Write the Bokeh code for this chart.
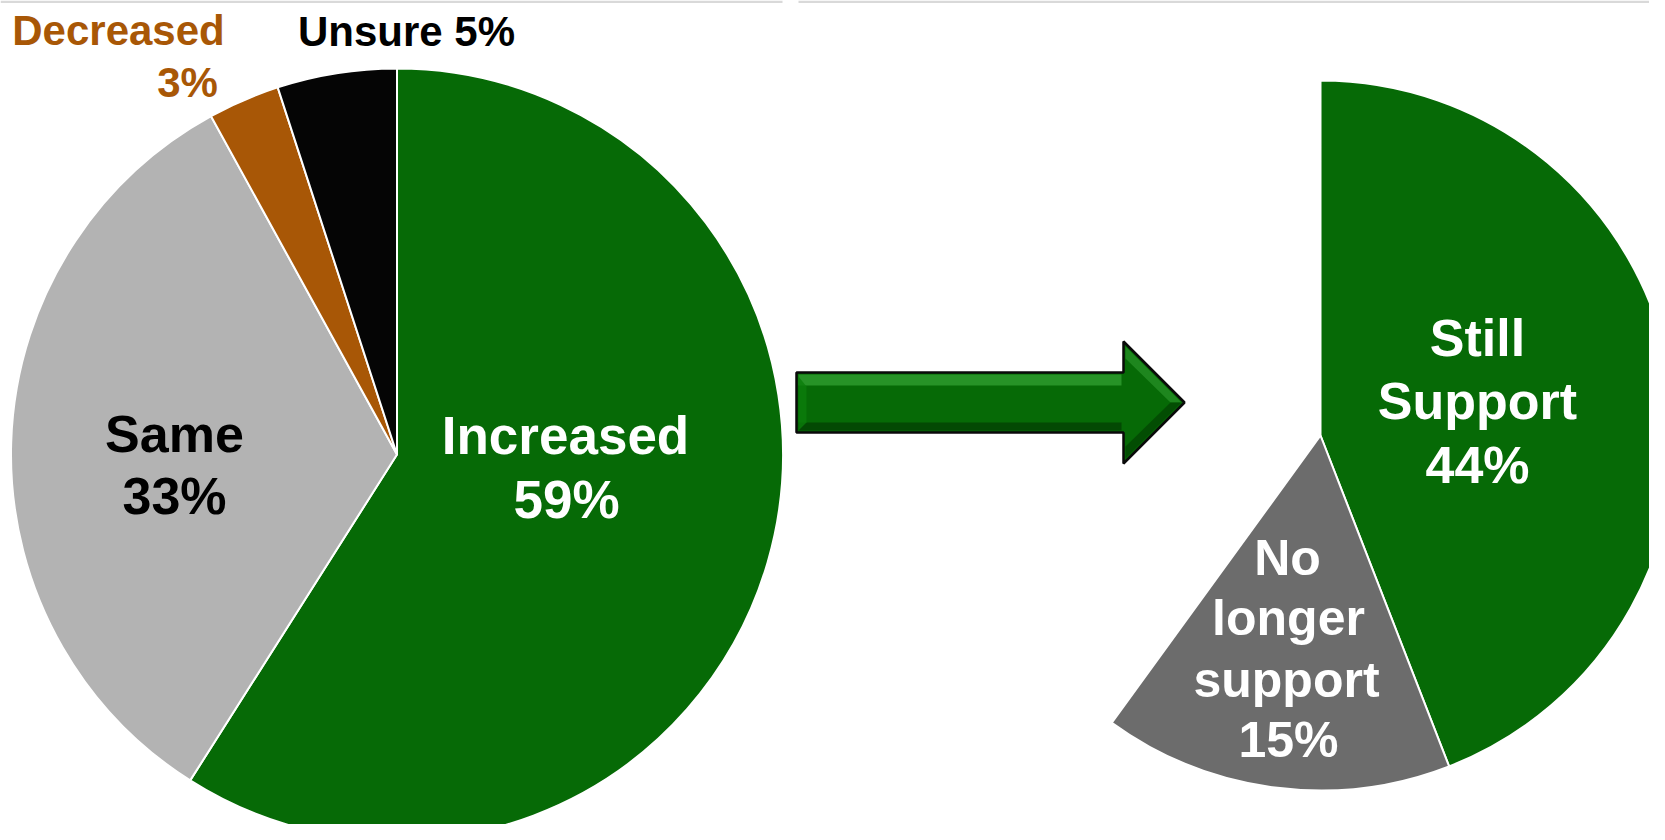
import numpy as np
from bokeh.plotting import figure
from bokeh.models import ColumnDataSource, Range1d
from bokeh.core.properties import value
from bokeh.embed import file_html
from bokeh.resources import INLINE

# ---------------- data ----------------
left_categories = ["Increased", "Same", "Decreased", "Unsure"]
left_values = [59, 33, 3, 5]
left_colors = ["#066A06", "#B3B3B3", "#A85706", "#050505"]

right_categories = ["Still Support", "No longer support"]
right_values = [44.1, 15.9]
right_colors = ["#066A06", "#6C6C6C"]

# ---------------- figure (1 unit = 1 px of the 1665x840 picture) -------------
W, H = 1649, 824
IMG_H = 840
p = figure(width=W, height=H, output_backend="svg", toolbar_location=None,
           x_axis_type=None, y_axis_type=None, min_border=0,
           x_range=Range1d(0, W), y_range=Range1d(IMG_H - H, IMG_H))
p.outline_line_color = None
p.grid.visible = False
p.background_fill_color = "white"


def Y(y_img):
    return IMG_H - y_img


# thin grey rule at the top
p.quad(left=[0, 798], right=[782, 1665], top=[Y(0), Y(0)], bottom=[Y(2.5), Y(2.5)],
       fill_color="#D9D9D9", line_color=None)


def pie(cx, cy, r, values, colors):
    vals = np.array(values, dtype=float)
    cum = np.concatenate([[0], np.cumsum(vals)])
    start = 90 - cum[1:] * 3.6
    end = 90 - cum[:-1] * 3.6
    src = ColumnDataSource(dict(x=[cx] * len(vals), y=[Y(cy)] * len(vals),
                                start=np.radians(start), end=np.radians(end),
                                color=colors))
    p.wedge(x="x", y="y", radius=r, start_angle="start", end_angle="end",
            fill_color="color", line_color="white", line_width=2, source=src)


pie(396.5, 454, 386, left_values, left_colors)
pie(1320, 435, 355, right_values, right_colors)

# ---------------- arrow ----------------
ax = [796, 1123, 1123, 1184, 1123, 1123, 796]
ay = [372, 372, 341, 402, 463, 432, 432]
p.patch(ax, [Y(v) for v in ay], fill_color="#066A06", line_color="#0A0A0A", line_width=2.5)
# bevel highlights / shadows
p.patch([798, 1121, 1121, 798], [Y(v) for v in [374, 374, 385, 385]],
        fill_color="#2E9A2E", line_color=None, fill_alpha=0.85)
p.patch([1125, 1181, 1170, 1125], [Y(v) for v in [346, 402, 402, 358]],
        fill_color="#2E9A2E", line_color=None, fill_alpha=0.6)
p.patch([798, 1121, 1121, 798], [Y(v) for v in [422, 422, 430, 430]],
        fill_color="#034603", line_color=None, fill_alpha=0.9)
p.patch([1181, 1125, 1125, 1170], [Y(v) for v in [402, 458, 446, 402]],
        fill_color="#034603", line_color=None, fill_alpha=0.8)
p.patch([798, 806, 806, 798], [Y(v) for v in [376, 386, 422, 430]],
        fill_color="#0B7D0B", line_color=None, fill_alpha=0.8)

# ---------------- labels ----------------
font = value("Liberation Sans")


def label(txt, x, y_img, size, color):
    p.text(x=[x], y=[Y(y_img)], text=[txt], text_font=font, text_font_style="bold",
           text_font_size=size, text_color=color, text_align="center",
           text_baseline="alphabetic")


label("Increased", 565, 435, "53px", "white")
label("59%", 566, 499, "53px", "white")
label("Same", 174, 433, "52px", "black")
label("33%", 174, 495, "52px", "black")
label("Decreased", 118, 30, "42px", "#A85706")
label("3%", 187, 82, "42px", "#A85706")
label("Unsure 5%", 406, 31, "42px", "black")
label("Still", 1477, 337, "52px", "white")
label("Support", 1477, 400, "52px", "white")
label("44%", 1477, 464, "52px", "white")
label("No", 1287, 557, "50px", "white")
label("longer", 1288, 617, "50px", "white")
label("support", 1286, 679, "50px", "white")
label("15%", 1288, 739, "50px", "white")

open("out.html", "w").write(file_html(p, INLINE))
